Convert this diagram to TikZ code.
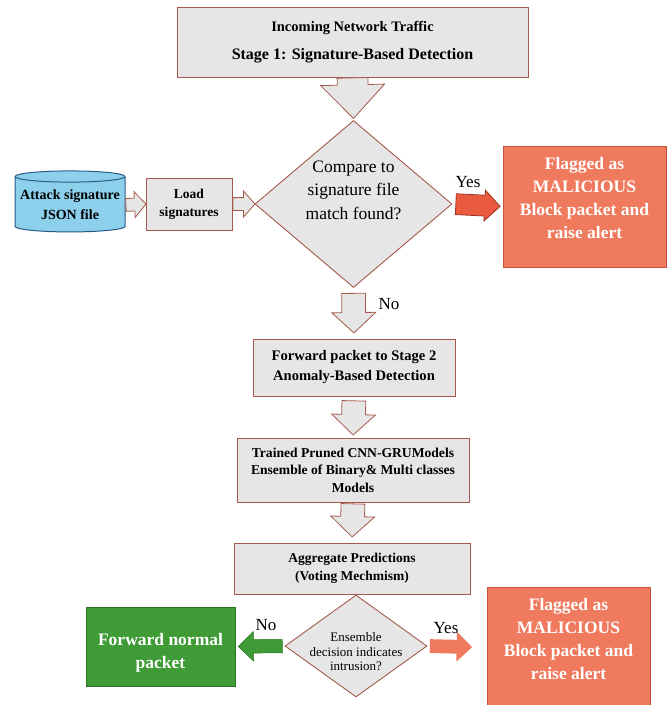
\documentclass[tikz,border=0pt]{standalone}
\usepackage{fontspec}
\setmainfont{Liberation Serif}
\usetikzlibrary{shapes.geometric,shapes.arrows,calc}

\definecolor{boxgray}{HTML}{E6E6E6}
\definecolor{brd}{HTML}{A5594B}
\definecolor{alertred}{HTML}{F07A5E}
\definecolor{alertbrd}{HTML}{C9503A}
\definecolor{yesred}{HTML}{EA5A3E}
\definecolor{yesbrd}{HTML}{9E3222}
\definecolor{okgreen}{HTML}{3E9B35}
\definecolor{okbrd}{HTML}{2C7424}
\definecolor{dbblue}{HTML}{8DD0EC}
\definecolor{dbbrd}{HTML}{2A5B88}

\newcommand{\fs}[2]{\fontsize{#1}{#2}\selectfont}

\tikzset{
  proc/.style={draw=brd, fill=boxgray, line width=0.9pt, align=center, inner sep=2pt},
  decision/.style={diamond, draw=brd, fill=boxgray, line width=0.9pt, inner sep=0pt},
  alertbox/.style={draw=alertbrd, fill=alertred, line width=0.6pt, minimum width=163, minimum height=121},
  okbox/.style={draw=okbrd, fill=okgreen, line width=0.8pt, minimum width=149, minimum height=79},
  whitetxt/.style={align=center, text=white, font=\bfseries\fs{17.5}{23.2}},
  lbl/.style={font=\fs{17}{20}},
  barrow/.style={single arrow, inner xsep=0pt, minimum width=0pt, single arrow head indent=0pt,
    draw=brd, fill=boxgray, line width=0.8pt},
  bigarr/.style={inner ysep=15pt, single arrow head extend=16.5pt, single arrow tip angle=87},
  midarr/.style={inner ysep=11.5pt, single arrow head extend=10pt, single arrow tip angle=94},
  smallarr/.style={inner ysep=6pt, single arrow head extend=6.5pt, single arrow tip angle=97},
  yesarr/.style={inner ysep=10pt, single arrow head extend=5pt, single arrow tip angle=90,
    draw=yesbrd, fill=yesred},
  noarr/.style={inner ysep=6.5pt, single arrow head extend=8pt, single arrow tip angle=88,
    draw=okbrd, fill=okgreen, line width=0.5pt},
  yes2arr/.style={inner ysep=6.5pt, single arrow head extend=8pt, single arrow tip angle=88,
    draw=none, fill=alertred}
}

% block arrow from one anchor to another, with gaps at both ends
\newcommand{\blockarr}[5][]{%
  \path let \p1=($(#3)-(#2)$), \n1={atan2(\y1,\x1)}, \n2={veclen(\x1,\y1)-#4-#5} in
    node[barrow,#1,rotate=\n1,minimum height=\n2,anchor=tail] at ($(#2)!#4!(#3)$) {};}

\begin{document}
\begin{tikzpicture}[x=1pt,y=-1pt]
\useasboundingbox (0,0) rectangle (670,705);

% stage 1
\node[proc, minimum width=351, minimum height=70, font=\bfseries\fs{14.5}{28}] (top) at (352.5,42)
  {Incoming Network Traffic\\\fs{16}{28}Stage 1: Signature-Based Detection};

\node[decision, minimum width=197, minimum height=167] (d1) at (353.5,204) {};
\node[align=center, font=\fs{17.5}{23.5}] (d1t) at (353.5,190) {Compare to\\signature file\\match found?};

\node[cylinder, shape border rotate=90, aspect=0.11, draw=dbbrd, fill=dbblue, line width=1pt,
  minimum width=110, minimum height=61, align=center, inner sep=1pt, font=\bfseries\fs{14}{20}] (db) at (70,205)
  {Attack signature\\JSON file};
\node[proc, minimum width=86, minimum height=52, font=\bfseries\fs{13.5}{18}] (load) at (189,204)
  {Load\\signatures};

\node[alertbox] (mal1) at (584.5,206.5) {};
\node[whitetxt] (mal1t) at (584.5,198) {Flagged as\\MALICIOUS\\Block packet and\\raise alert};

% stage 2
\node[proc, minimum width=202, minimum height=57, font=\bfseries\fs{14.6}{20}] (fwd) at (354,367.5)
  {Forward packet to Stage 2\\Anomaly-Based Detection};
\node[proc, minimum width=232, minimum height=64, font=\bfseries\fs{13.6}{17.5}] (model) at (353,470)
  {Trained Pruned CNN-GRUModels\\Ensemble of Binary\& Multi classes\\Models};
\node[proc, minimum width=236, minimum height=51, font=\bfseries\fs{13.5}{18}] (agg) at (352,568.5)
  {Aggregate Predictions\\(Voting Mechmism)};

\node[decision, minimum width=142, minimum height=102] (d2) at (356,646) {};
\node[align=center, font=\fs{13}{14.5}] (d2t) at (356,652) {Ensemble\\decision indicates\\intrusion?};

\node[okbox] (norm) at (160.5,646.5) {};
\node[whitetxt] (normt) at (160.5,653) {Forward normal\\packet};

\node[alertbox] (mal2) at (568.5,647.5) {};
\node[whitetxt] (mal2t) at (568.5,639) {Flagged as\\MALICIOUS\\Block packet and\\raise alert};

% block arrows
\blockarr[bigarr]{top.south}{d1.north}{0pt}{2pt}
\blockarr[smallarr]{db.east}{load.west}{0pt}{0pt}
\blockarr[smallarr]{load.east}{d1.west}{0pt}{0pt}
\blockarr[yesarr]{d1.east}{mal1.west}{3pt}{3pt}
\blockarr[midarr]{d1.south}{fwd.north}{5pt}{6pt}
\blockarr[midarr]{fwd.south}{model.north}{4pt}{3pt}
\blockarr[midarr]{model.south}{agg.north}{1pt}{6pt}
\blockarr[noarr]{d2.west}{norm.east}{2pt}{3pt}
\blockarr[yes2arr]{d2.east}{mal2.west}{2pt}{15pt}

% labels
\node[lbl] (yes1) at (468,182) {Yes};
\node[lbl] (no1) at (389,304) {No};
\node[lbl] (no2) at (266,625) {No};
\node[lbl] (yes2) at (446,628) {Yes};

\end{tikzpicture}
\end{document}
